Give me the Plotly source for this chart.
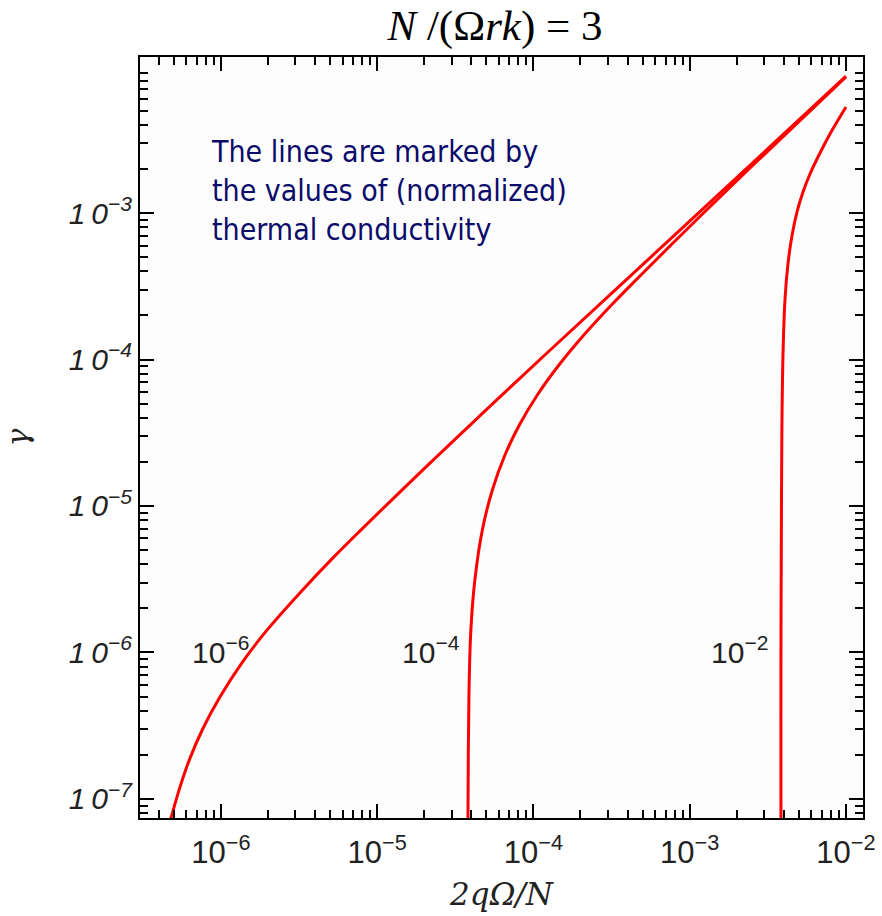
import math
import plotly.graph_objects as go

# ---- data ----
kappa_labels = ["10<sup>−6</sup>", "10<sup>−4</sup>", "10<sup>−2</sup>"]
label_x = [1.0e-6, 2.2e-5, 2.07e-3]
label_y = [1.04e-6, 1.04e-6, 1.04e-6]

x_k6 = [4.51e-7, 4.79e-7, 5.46e-7, 6.33e-7, 7.67e-7, 9.85e-7, 1.383e-6, 1.97e-6,
        3.20e-6, 5.21e-6, 1.796e-5, 4.75e-5, 1.275e-4, 5.57e-4, 2.43e-3, 1.0e-2]
y_k6 = [5.95e-8, 7.42e-8, 1.20e-7, 1.893e-7, 3.028e-7, 4.961e-7, 8.695e-7, 1.42e-6,
        2.551e-6, 4.422e-6, 1.613e-5, 4.319e-5, 1.156e-4, 4.946e-4, 2.116e-3, 8.61e-3]

x_k4 = [3.81e-5, 3.81e-5, 3.867e-5, 3.975e-5, 4.217e-5, 4.71e-5, 5.458e-5, 6.57e-5,
        8.125e-5, 1.059e-4, 1.456e-4, 2.102e-4, 3.157e-4, 4.875e-4, 7.586e-4, 1.189e-3,
        2.43e-3, 1.0e-2]
y_k4 = [5.95e-8, 7.42e-8, 5.29e-7, 1.424e-6, 3.125e-6, 6.86e-6, 1.286e-5, 2.229e-5,
        3.571e-5, 5.724e-5, 9.17e-5, 1.47e-4, 2.355e-4, 3.774e-4, 6.047e-4, 9.69e-4,
        2.029e-3, 8.48e-3]

x_k2 = [3.837e-3, 3.837e-3, 3.837e-3, 3.867e-3, 3.895e-3, 3.953e-3, 4.07e-3, 4.254e-3,
        4.51e-3, 4.86e-3, 5.31e-3, 5.885e-3, 6.62e-3, 7.90e-3, 1.0e-2]
y_k2 = [5.95e-8, 7.42e-8, 9.92e-7, 1.099e-5, 3.86e-5, 1.073e-4, 2.547e-4, 4.49e-4,
        6.97e-4, 1.016e-3, 1.391e-3, 1.846e-3, 2.412e-3, 3.46e-3, 5.29e-3]

note_text = "The lines are marked by<br>the values of (normalized)<br>thermal conductivity"
note_x = 8.4e-7
note_y = 3.6e-3

x_ticks = [1e-6, 1e-5, 1e-4, 1e-3, 1e-2]
x_ticktext = ["10<sup>−6</sup>", "10<sup>−5</sup>", "10<sup>−4</sup>", "10<sup>−3</sup>", "10<sup>−2</sup>"]
y_ticks = [1e-7, 1e-6, 1e-5, 1e-4, 1e-3]
y_ticktext = ["<i>1\u20090<sup>−7</sup></i>", "<i>1\u20090<sup>−6</sup></i>", "<i>1\u20090<sup>−5</sup></i>",
              "<i>1\u20090<sup>−4</sup></i>", "<i>1\u20090<sup>−3</sup></i>"]

minor_x = [k * 10.0 ** e for e in range(-7, -1) for k in range(2, 10)]
minor_y = [k * 10.0 ** e for e in range(-8, -1) for k in range(2, 10)]

RED = "#ff0000"
fig = go.Figure()
for xs, ys in [(x_k6, y_k6), (x_k4, y_k4), (x_k2, y_k2)]:
    fig.add_trace(go.Scatter(x=xs, y=ys, mode="lines",
                             line=dict(color=RED, width=3, shape="spline", smoothing=1.0),
                             showlegend=False, hoverinfo="skip"))

# annotations on log axes take log10 coordinates
for t, lx, ly in zip(kappa_labels, label_x, label_y):
    fig.add_annotation(x=math.log10(lx), y=math.log10(ly), text=t, showarrow=False,
                       xanchor="center", yanchor="middle",
                       font=dict(family="Liberation Sans, Arial", size=30, color="#222222"))

fig.add_annotation(x=math.log10(note_x), y=math.log10(note_y), xref="x", yref="y",
                   xanchor="left", yanchor="top", align="left", showarrow=False,
                   text=note_text,
                   font=dict(family="DejaVu Sans Condensed, DejaVu Sans, Noto Sans", size=30, color="#0b0b6b"))

axis_common = dict(
    type="log", showgrid=False, zeroline=False, showline=True, linecolor="black", linewidth=2,
    mirror="ticks", ticks="inside", ticklen=14, tickwidth=2, tickcolor="black",
    tickmode="array",
)

fig.update_xaxes(**axis_common, range=[-6.518, -1.891], tickvals=x_ticks, ticktext=x_ticktext,
                 ticklabelstandoff=6,
                 tickfont=dict(family="Liberation Sans, Arial", size=31, color="#222222"),
                 minor=dict(ticks="inside", ticklen=8, tickwidth=2, tickcolor="black",
                            tickmode="array", tickvals=minor_x, showgrid=False),
                 title=dict(text="<i>2qΩ/N</i>", standoff=14,
                            font=dict(family="DejaVu Serif, Liberation Serif", size=31, color="#222222")))
fig.update_yaxes(**axis_common, range=[-7.130, -1.935], tickvals=y_ticks, ticktext=y_ticktext,
                 tickfont=dict(family="Liberation Sans, Arial", size=30, color="#222222"),
                 minor=dict(ticks="inside", ticklen=8, tickwidth=2, tickcolor="black",
                            tickmode="array", tickvals=minor_y, showgrid=False),
                 title=dict(text="<i>γ</i>", standoff=34,
                            font=dict(family="DejaVu Serif, Liberation Serif", size=30, color="#222222")))

fig.update_layout(
    width=882, height=916,
    margin=dict(l=140, r=19, t=57, b=98, autoexpand=False),
    paper_bgcolor="white", plot_bgcolor="#fdfdfd",
    title=dict(text="<i>N</i> /(Ω<i>rk</i>) = 3", xref="container", yref="container",
               x=495 / 882, y=1 - 25 / 916, xanchor="center", yanchor="middle",
               font=dict(family="Liberation Serif, Times New Roman", size=43, color="black")),
)

fig.write_html("out.html")
